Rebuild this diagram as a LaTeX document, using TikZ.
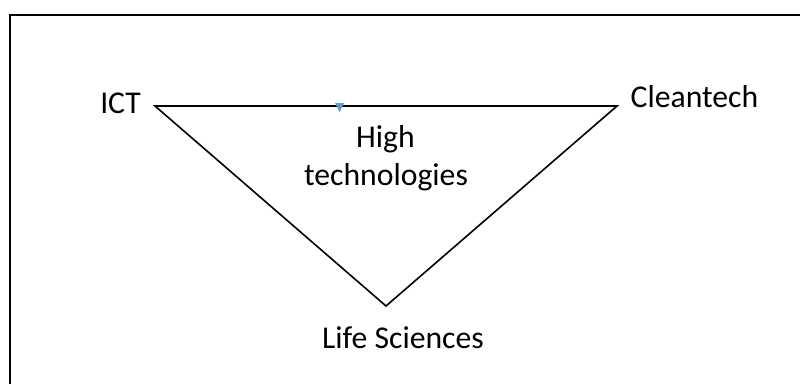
\documentclass[tikz,border=0pt]{standalone}
\usepackage{fontspec}
\setmainfont{Carlito}
\definecolor{markblue}{HTML}{5B9BD5}
\tikzset{
  lbl/.style={inner sep=0pt, anchor=base, font=\fontsize{31.7}{38}\selectfont},
  tri/.style={draw=black, line width=1.6pt, line join=miter},
  frame/.style={draw=black, line width=2pt}
}
\begin{document}
\begin{tikzpicture}[x=1pt,y=1pt]
\useasboundingbox (0,0) rectangle (800,384);
\coordinate (fb) at (10,0);
\coordinate (fc) at (10,369);
\coordinate (fr) at (800,369);
\draw[frame] (fb) -- (fc) -- (fr);
\coordinate (A) at (155,278);
\coordinate (B) at (617,278);
\coordinate (C) at (386,78);
\draw[tri] (A) -- (B) -- (C) -- cycle;
\coordinate (m1) at (335,281);
\coordinate (m2) at (344,281);
\coordinate (m3) at (339.5,272);
\fill[markblue] (m1) -- (m2) -- (m3) -- cycle;
\node[lbl] (ict) at (120.5,271) {ICT};
\node[lbl] (clean) at (694.5,277) {Cleantech};
\node[lbl] (high) at (385.5,237) {High};
\node[lbl] (tech) at (386,199) {technologies};
\node[lbl] (life) at (403,36) {Life Sciences};
\end{tikzpicture}
\end{document}
